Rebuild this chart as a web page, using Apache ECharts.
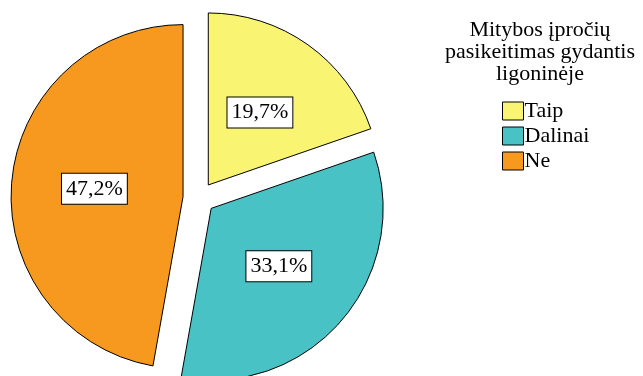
<!DOCTYPE html>
<html>
<head>
<meta charset="utf-8">
<script src="https://cdn.jsdelivr.net/npm/echarts@6/dist/echarts.min.js"></script>
<style>
  html, body { margin: 0; padding: 0; background: #fff; }
  #chart { width: 643px; height: 376px; }
</style>
</head>
<body>
<div id="chart"></div>
<script>
// Share of answers, percent
const categories = ['Taip', 'Dalinai', 'Ne'];
const shares = [19.7, 33.1, 47.2];
const colors = ['#F9F572', '#48C2C5', '#F7991F'];
const legendTitle = 'Mitybos įpročių\npasikeitimas gydantis\nligoninėje';

const serif = "'Liberation Serif', 'Times New Roman', serif";

const chart = echarts.init(document.getElementById('chart'));

chart.setOption({
  animation: false,
  backgroundColor: '#ffffff',
  title: {
    text: legendTitle,
    left: 540,
    top: 19,
    padding: 0,
    textAlign: 'center',
    textStyle: {
      fontFamily: serif,
      fontSize: 22,
      lineHeight: 22,
      fontWeight: 'normal',
      color: '#000'
    }
  },
  legend: {
    orient: 'vertical',
    left: 502,
    top: 100,
    padding: 0,
    itemWidth: 21,
    itemHeight: 18,
    itemGap: 3,
    icon: 'rect',
    selectedMode: false,
    data: categories,
    itemStyle: { borderColor: '#000', borderWidth: 1 },
    textStyle: {
      fontFamily: serif,
      fontSize: 22,
      color: '#000',
      padding: [0, 0, 0, -4]
    }
  },
  series: [{
    type: 'pie',
    center: [199, 198],
    radius: 172,
    startAngle: 90,
    clockwise: true,
    selectedMode: 'multiple',
    selectedOffset: 16,
    silent: true,
    itemStyle: { borderColor: '#000', borderWidth: 1 },
    label: {
      show: true,
      position: 'inside',
      formatter: p => p.value.toFixed(1).replace('.', ',') + '%',
      fontFamily: serif,
      fontSize: 22,
      color: '#000',
      backgroundColor: '#fff',
      borderColor: '#000',
      borderWidth: 1,
      padding: [5, 4, 3, 4]
    },
    labelLine: { show: false },
    data: categories.map((name, i) => ({
      name: name,
      value: shares[i],
      selected: true,
      itemStyle: { color: colors[i] },
      select: { itemStyle: { color: colors[i], borderColor: '#000', borderWidth: 1 } }
    }))
  }]
});
</script>
</body>
</html>
